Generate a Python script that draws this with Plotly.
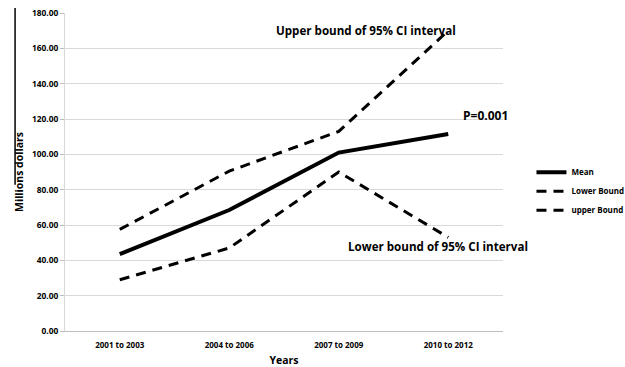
import plotly.graph_objects as go

categories = ["2001 to 2003", "2004 to 2006", "2007 to 2009", "2010 to 2012"]
mean_vals = [43.5, 68.5, 101.0, 111.5]
lower_vals = [29.0, 47.0, 90.0, 53.0]
upper_vals = [57.5, 90.5, 113.0, 170.0]
y_ticks = [0, 20, 40, 60, 80, 100, 120, 140, 160, 180]

FONT = "Open Sans"

fig = go.Figure()
fig.add_trace(go.Scatter(x=categories, y=mean_vals, mode="lines", name="Mean",
                         line=dict(color="black", width=4)))
fig.add_trace(go.Scatter(x=categories, y=lower_vals, mode="lines", name="Lower Bound",
                         line=dict(color="black", width=3, dash="10px,7px")))
fig.add_trace(go.Scatter(x=categories, y=upper_vals, mode="lines", name="upper Bound",
                         line=dict(color="black", width=3, dash="10px,7px")))

fig.add_annotation(x=0.897, y=170, xref="paper", yref="y", text="<b>Upper bound of 95% CI interval</b>",
                   showarrow=False, xanchor="right", yanchor="middle",
                   font=dict(family=FONT, size=11.6, color="black"))
fig.add_annotation(x=0.961, y=122, xref="paper", yref="y", text="<b>P=0.001</b>",
                   showarrow=False, xanchor="center", yanchor="middle",
                   font=dict(family=FONT, size=12, color="black"))
fig.add_annotation(x=1.062, y=48, xref="paper", yref="y", text="<b>Lower bound of 95% CI interval</b>",
                   showarrow=False, xanchor="right", yanchor="middle",
                   font=dict(family=FONT, size=11.6, color="black"))

fig.add_shape(type="line", xref="paper", yref="paper", x0=-0.114, x1=-0.114, y0=0.46, y1=1.016,
              line=dict(color="black", width=1.5), layer="above")

fig.update_layout(
    width=625, height=367,
    margin=dict(l=65, r=122, t=13, b=36, autoexpand=False),
    plot_bgcolor="white", paper_bgcolor="white",
    font=dict(family=FONT, color="black"),
    showlegend=True,
    legend=dict(x=1.065, y=0.545, xanchor="left", yanchor="top",
                font=dict(family=FONT, size=8, color="black", weight="bold"),
                bgcolor="rgba(0,0,0,0)", tracegroupgap=0, itemwidth=30),
    xaxis=dict(type="category", range=[-0.5, 3.5], showgrid=False, automargin=False,
               showline=True, linecolor="#bdbdbd", linewidth=1,
               ticks="", ticklabelstandoff=6,
               tickfont=dict(family=FONT, size=8, color="black", weight="bold"),
               title=dict(text="Years", font=dict(family=FONT, size=10.5, weight="bold"), standoff=12)),
    yaxis=dict(range=[0, 180], tickvals=y_ticks, tickformat=".2f", automargin=False,
               showgrid=True, gridcolor="#d9d9d9", gridwidth=1,
               showline=True, linecolor="#d9d9d9", linewidth=1,
               ticks="outside", ticklen=4, tickcolor="#bdbdbd",
               zeroline=False,
               tickfont=dict(family=FONT, size=8.4, color="black", weight="bold"),
               title=dict(text="Millions dollars", font=dict(family=FONT, size=10.5, weight="bold"), standoff=6)),
)

fig.write_html("out.html", config={"displayModeBar": False},
               post_script="document.body.style.margin='0';document.body.style.padding='0';")
